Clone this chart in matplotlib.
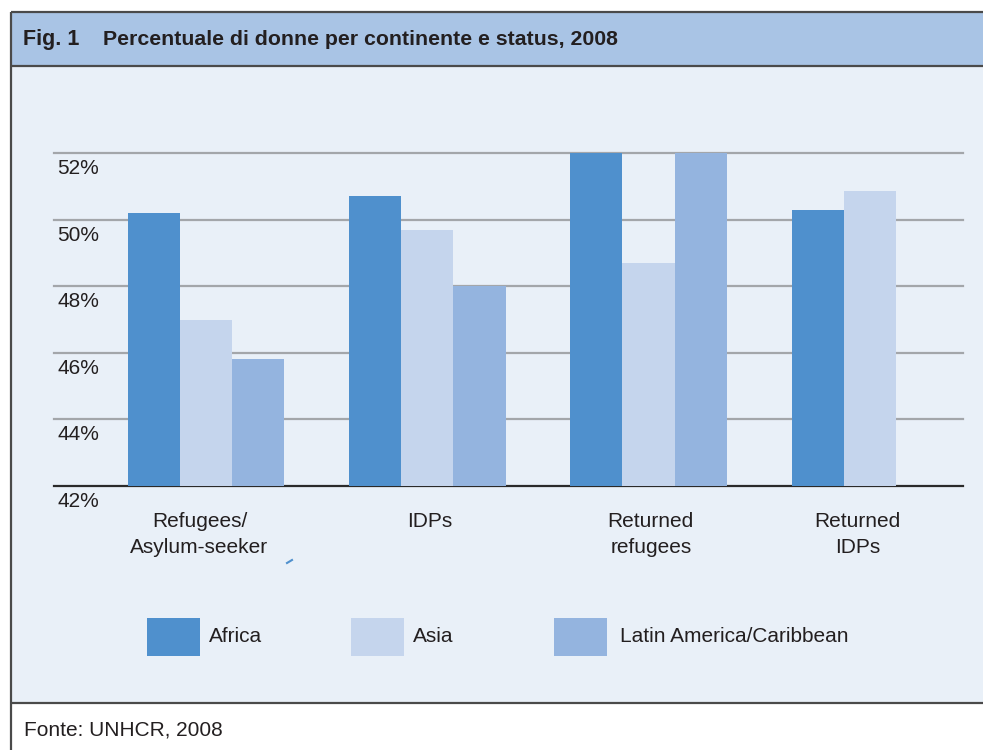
import numpy as np
import matplotlib
matplotlib.use("Agg")
import matplotlib.pyplot as plt
from matplotlib.patches import Rectangle

plt.rcParams["font.family"] = ["Liberation Sans", "DejaVu Sans"]

# data: share of women (%) by status and continent, 2008
categories = ["Refugees/\nAsylum-seeker", "IDPs", "Returned\nrefugees", "Returned\nIDPs"]
series_names = ["Africa", "Asia", "Latin America/Caribbean"]
africa = [50.2, 50.7, 52.0, 50.3]
asia = [47.0, 49.7, 48.7, 50.85]
latin_america = [45.8, 48.0, 52.0, np.nan]
y_ticks = [42, 44, 46, 48, 50, 52]

colors = ["#4f90cd", "#c5d5ed", "#94b4df"]
bg_color = "#e9f0f8"
header_color = "#a9c4e5"
frame_color = "#4a4a4a"
text_color = "#231f20"
fs = 15

W, H = 983, 750
fig = plt.figure(figsize=(W / 100, H / 100), dpi=100)

# background layer in pixel coordinates: frame, header, legend, footer
bg = fig.add_axes([0, 0, 1, 1], zorder=0)
bg.set_xlim(0, W)
bg.set_ylim(H, 0)
bg.axis("off")
bg.add_patch(Rectangle((11, 12), W, 54, color=header_color, lw=0))
bg.add_patch(Rectangle((11, 66), W, 637, color=bg_color, lw=0))
for y in (12, 66, 703):
    bg.plot([11, W], [y, y], color=frame_color, lw=1.6, solid_capstyle="butt")
bg.plot([11, 11], [12, H], color=frame_color, lw=1.6, solid_capstyle="butt")

bg.text(23, 45, "Fig. 1", fontsize=15.5, fontweight="bold", color=text_color, va="baseline")
bg.text(103, 45, "Percentuale di donne per continente e status, 2008",
        fontsize=15.3, fontweight="bold", color=text_color, va="baseline")

# legend with evenly spaced entries
text_gap = [9, 9, 13]
for i, (name, col) in enumerate(zip(series_names, colors)):
    x0 = 147 + 203.5 * i
    bg.add_patch(Rectangle((x0, 618), 53, 38, color=col, lw=0))
    bg.text(x0 + 53 + text_gap[i], 637, name, fontsize=fs, color=text_color, va="center")

bg.text(24, 735, "Fonte: UNHCR, 2008", fontsize=fs, color=text_color, va="baseline")
bg.plot([287, 292], [563, 560], color=colors[0], lw=1.5)

# bar chart
ax = fig.add_axes([54 / W, (H - 486) / H, (963 - 54) / W, (486 - 153) / H], zorder=1)
ax.set_facecolor("none")
for s in ax.spines.values():
    s.set_visible(False)
ax.set_xticks([])
ax.set_yticks([])
ax.set_xlim(-0.687, 3.421)
ax.set_ylim(42, 52)

for v in y_ticks[1:]:
    ax.axhline(v, color="#a3a6aa", lw=1.6, zorder=1, clip_on=False)
ax.axhline(42, color="#2a2a2a", lw=1.6, zorder=1, clip_on=False)

x = np.arange(len(categories))
width = 0.236
for k, (vals, col) in enumerate(zip([africa, asia, latin_america], colors)):
    vals = np.asarray(vals, dtype=float)
    ok = ~np.isnan(vals)
    ax.bar(x[ok] + (k - 1) * width, vals[ok] - 42, bottom=42, width=width,
           color=col, lw=0, zorder=2)

for v in y_ticks:
    ax.annotate(f"{v}%", xy=(0, v), xycoords=("axes fraction", "data"),
                xytext=(3, -21), textcoords="offset pixels",
                fontsize=fs, color=text_color, va="baseline", ha="left")

label_shift = [-0.03, 0.01, 0.01, -0.055]
for xi, lab, dx in zip(x, categories, label_shift):
    ax.annotate(lab, xy=(xi + dx, 42), xycoords="data",
                xytext=(0, -26), textcoords="offset pixels",
                fontsize=fs, color=text_color, ha="center", va="top",
                linespacing=1.45)

fig.savefig("out.png", dpi=100)
